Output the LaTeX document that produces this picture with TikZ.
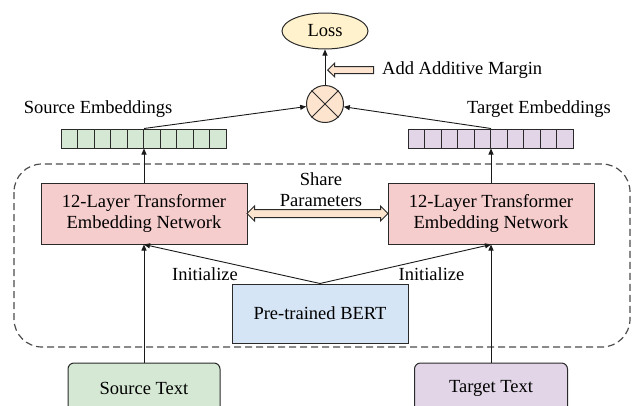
\documentclass[tikz,border=0pt]{standalone}
\usepackage{fontspec}
\setmainfont{Liberation Serif}
\usetikzlibrary{arrows.meta,shapes.arrows,shapes.geometric,positioning,calc}

\definecolor{lossyellow}{HTML}{FFF2CC}
\definecolor{mulorange}{HTML}{FCE4CE}
\definecolor{embgreen}{HTML}{D5E8D4}
\definecolor{embpurple}{HTML}{E1D5E7}
\definecolor{netpink}{HTML}{F6CDCD}
\definecolor{bertblue}{HTML}{D6E5F5}
\definecolor{edgegray}{HTML}{2A2A2A}

\begin{document}
\begin{tikzpicture}[x=1pt,y=-1pt,
  font=\fontsize{18.5}{21}\selectfont,
  >={Triangle[length=6pt,width=5pt]}
]

\tikzstyle{box}=[draw=edgegray,line width=1pt,inner sep=0pt,align=center]
\tikzstyle{cell}=[box,minimum width=16.5pt,minimum height=19pt]
\tikzstyle{hollow}=[draw=edgegray,line width=1pt,fill=mulorange,inner xsep=0pt,inner ysep=3.5pt]
\tikzstyle{conn}=[->,line width=0.9pt,draw=black!90]

\useasboundingbox (0,0) rectangle (632,405);

% top: loss and similarity
\node [box,ellipse,fill=lossyellow,minimum width=86pt,minimum height=36pt] (loss) at (325,31) {Loss};
\node [box,circle,fill=mulorange,minimum size=37pt] (mul) at (325,104) {};
\draw [edgegray,line width=1pt] (mul.north west) -- (mul.south east)
  (mul.north east) -- (mul.south west);
\node [hollow,single arrow,shape border rotate=180,minimum height=46pt,
  single arrow head extend=3.5pt,anchor=tip,inner ysep=3pt] (margin) at (327,70) {};
\node [anchor=west,inner sep=0pt] (margintext) at (382,70) {Add Additive Margin};

% embeddings
\node (srclabel) at (98,109) {Source Embeddings};
\node (tgtlabel) at (539,109) {Target Embeddings};
\foreach \i in {1,...,10} {
  \node [cell,fill=embgreen] (src\i) at ({61+16.5*(\i-0.5)},138.5) {};
  \node [cell,fill=embpurple] (tgt\i) at ({408+16.5*(\i-0.5)},138.5) {};
}

% shared encoder
\draw [dashed,dash pattern=on 7pt off 4pt,draw=black!70,line width=1.2pt,rounded corners=28pt]
  (14,164) rectangle (630,347);
\node [box,fill=netpink,minimum width=206pt,minimum height=61pt] (encl) at (144,213.5)
  {12-Layer Transformer\\Embedding Network};
\node [box,fill=netpink,minimum width=206pt,minimum height=61pt] (encr) at (491,213.5)
  {12-Layer Transformer\\Embedding Network};
\node [align=center,inner sep=0pt] (sharetext) at (321,189.5) {Share\\Parameters};
\node [hollow,double arrow,minimum height=141pt,double arrow head extend=3.5pt]
  (share) at ($(encl.east)!0.5!(encr.west)$) {};
\node [box,fill=bertblue,minimum width=176pt,minimum height=59pt] (bert) at (320,313.5)
  {Pre-trained BERT};
\node (initl) at (205,274) {Initialize};
\node (initr) at (431.5,274) {Initialize};

% inputs
\node [box,fill=embgreen,rounded corners=6pt,minimum width=152pt,minimum height=50pt]
  (srctext) at (144,388) {Source Text};
\node [box,fill=embpurple,rounded corners=6pt,minimum width=153pt,minimum height=50pt]
  (tgttext) at (491,388) {Target Text};

% connectors
\draw [conn] (srctext.north) -- (encl.south);
\draw [conn] (tgttext.north) -- (encr.south);
\draw [conn] (bert.north) -- (encl.south);
\draw [conn] (bert.north) -- (encr.south);
\draw [conn] (encl.north) -- (src5.south east);
\draw [conn] (encr.north) -- (tgt5.south east);
\draw [conn] (src5.north east) -- (mul);
\draw [conn] (tgt5.north east) -- (mul);
\draw [conn] (mul) -- (loss);
\end{tikzpicture}
\end{document}
